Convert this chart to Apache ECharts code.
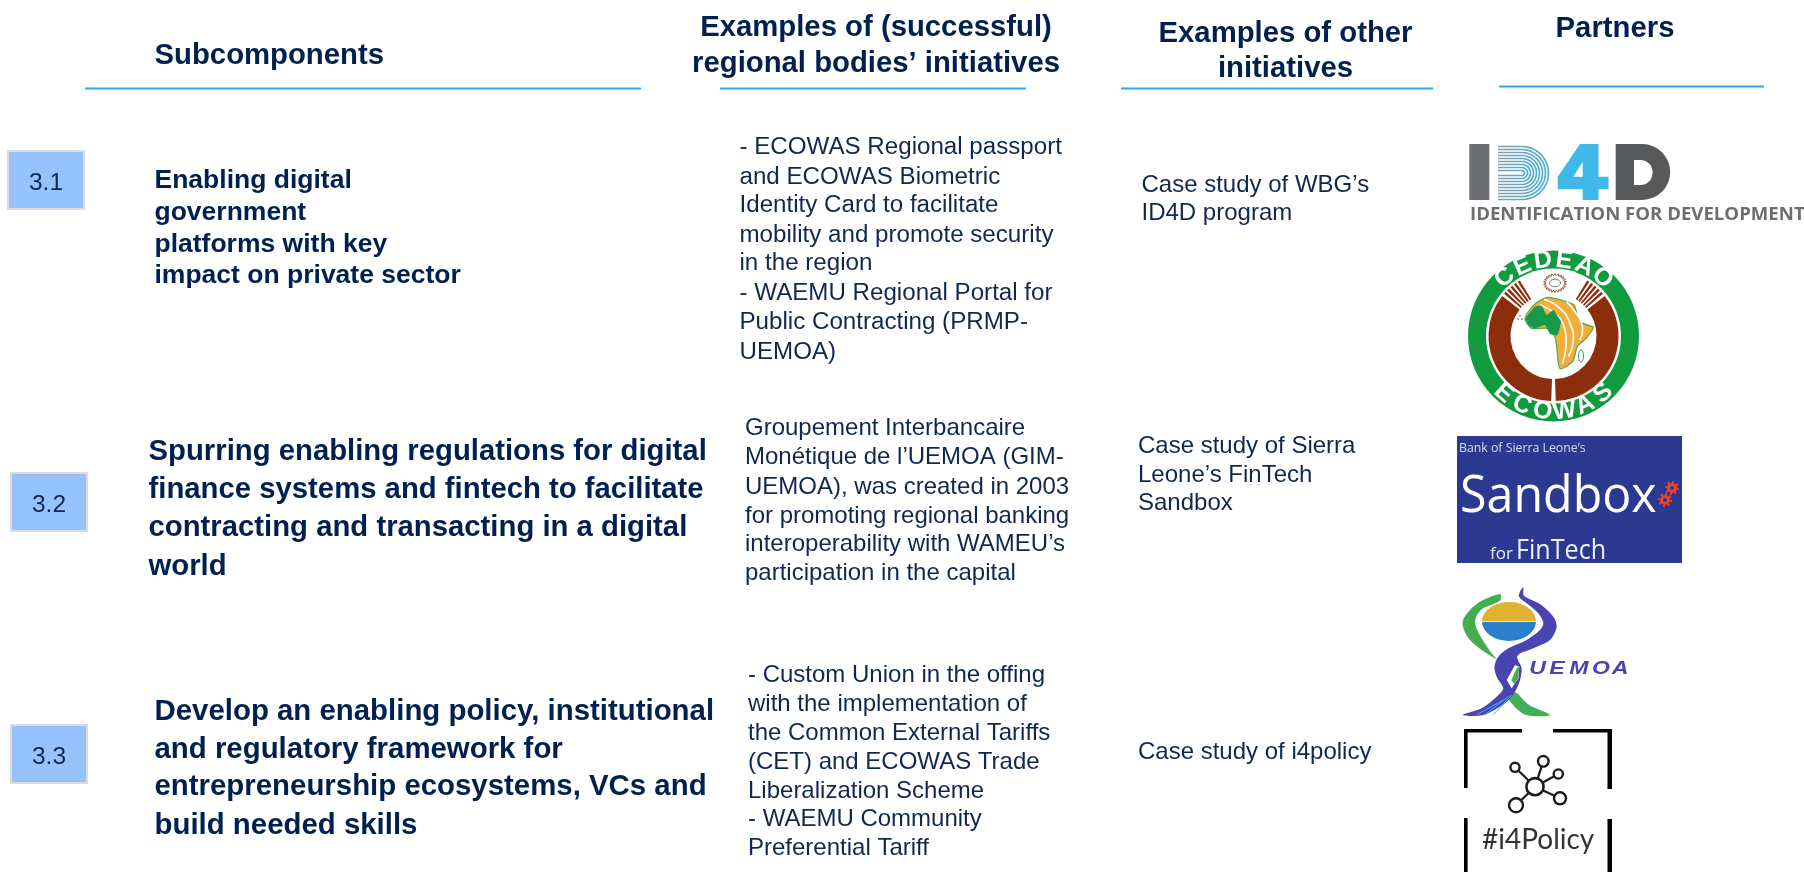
<!DOCTYPE html>
<html><head><meta charset="utf-8">
<script src="https://cdn.jsdelivr.net/npm/echarts@6/dist/echarts.min.js"></script>
<style>html,body{margin:0;padding:0;background:#fff}#c{width:1804px;height:872px}</style>
</head><body><div id="c"></div>
<script>
// ---- content ----
const subHeader = ["Subcomponents"];
const regionalHeader = ["Examples of (successful)", "regional bodies’ initiatives"];
const otherHeader = ["Examples of other", "initiatives"];
const partnersHeader = ["Partners"];
const rowLabels = ["3.1", "3.2", "3.3"];
const sub31 = ["Enabling digital", "government", "platforms with key", "impact on private sector"];
const sub32 = ["Spurring enabling regulations for digital", "finance systems and fintech to facilitate", "contracting and transacting in a digital", "world"];
const sub33 = ["Develop an enabling policy, institutional", "and regulatory framework for", "entrepreneurship ecosystems, VCs and", "build needed skills"];
const regional31 = ["- ECOWAS Regional passport", "and ECOWAS Biometric", "Identity Card to facilitate", "mobility and promote security", "in the region", "- WAEMU Regional Portal for", "Public Contracting (PRMP-", "UEMOA)"];
const regional32 = ["Groupement Interbancaire", "Monétique de l’UEMOA (GIM-", "UEMOA), was created in 2003", "for promoting regional banking", "interoperability with WAMEU’s", "participation in the capital"];
const regional33 = ["- Custom Union in the offing", "with the implementation of", "the Common External Tariffs", "(CET) and ECOWAS Trade", "Liberalization Scheme", "- WAEMU Community", "Preferential Tariff"];
const other31 = ["Case study of WBG’s", "ID4D program"];
const other32 = ["Case study of Sierra", "Leone’s FinTech", "Sandbox"];
const other33 = ["Case study of i4policy"];
const logoId4d = "IDENTIFICATION FOR DEVELOPMENT";
const logoCedeao = "CEDEAO";
const logoEcowas = "ECOWAS";
const logoBank = "Bank of Sierra Leone’s";
const logoSandbox = "Sandbox";
const logoFor = "for";
const logoFinTech = "FinTech";
const logoUemoa = "UEMOA";
const logoI4 = "#i4Policy";

// ---- helpers ----
const AR = "'Liberation Sans', Arial, sans-serif";
const NAVY = "#002150", BODY = "#10284f", RULE = "#2aa9f0";
const els = [];
const add = o => { o.z = els.length + 1; o.silent = true; els.push(o); return o; };
function text(s, x, base, size, o = {}) {
  const fam = o.family || AR;
  const y = o.k === 0 ? base : base - 0.346 * size + (o.family ? 0 : 3.3);
  add({ type: 'text', x, y, rotation: o.rotation || 0, scaleX: o.scaleX || 1,
    style: { text: s, fill: o.color || BODY, fontFamily: fam, fontSize: size, fontWeight: o.weight || 'normal', fontStyle: o.style || 'normal',
      align: o.align || 'left', verticalAlign: 'middle' } });
}
function block(lines, x, bases, size, o) { lines.forEach((l, i) => text(l, x, bases[i], size, o)); }
function rule(x1, x2, y) { add({ type: 'line', shape: { x1, y1: y, x2, y2: y }, style: { stroke: RULE, lineWidth: 2 } }); }
function poly(pts, fill, smooth, extra) { add({ type: 'polygon', shape: { points: pts, smooth: smooth || 0 }, style: Object.assign({ fill }, extra || {}) }); }
function pline(pts, stroke, lw, smooth) { add({ type: 'polyline', shape: { points: pts, smooth: smooth || 0 }, style: { stroke, lineWidth: lw, fill: 'none' } }); }
function rect(x, y, w, h, fill, r) { add({ type: 'rect', shape: { x, y, width: w, height: h, r: r || 0 }, style: { fill } }); }
function circ(cx, cy, r, fill, stroke, lw, dash) { add({ type: 'circle', shape: { cx, cy, r }, style: { fill: fill || 'none', stroke: stroke || 'none', lineWidth: lw || 0, lineDash: dash || null } }); }
const rad = d => d * Math.PI / 180;
function sector(cx, cy, r0, r, a, b, fill) { add({ type: 'sector', shape: { cx, cy, r0, r, startAngle: rad(a), endAngle: rad(b), clockwise: true }, style: { fill } }); }

// ---- headers ----
const H2 = 29.3;
text(subHeader[0], 154.5, 63, H2, { weight: 'bold', color: NAVY });
block(regionalHeader, 876, [35, 71], H2, { weight: 'bold', color: NAVY, align: 'center' });
block(otherHeader, 1285.5, [40.5, 76], H2, { weight: 'bold', color: NAVY, align: 'center' });
text(partnersHeader[0], 1615, 36, H2, { weight: 'bold', color: NAVY, align: 'center' });
rule(85, 641, 88.5); rule(720, 1026, 88.5); rule(1121, 1433, 88.5); rule(1499, 1764, 86.5);

// ---- numbered boxes ----
[[8, 151], [11, 473], [11, 725]].forEach((p, i) => {
  add({ type: 'rect', shape: { x: p[0], y: p[1], width: 76, height: 58 }, style: { fill: '#96c2fe', stroke: '#dcdcdc', lineWidth: 2 } });
  text(rowLabels[i], p[0] + 38, p[1] + 37, 24.5, { align: 'center', color: '#10284f' });
});

// ---- subcomponents ----
block(sub31, 154.5, [187, 218.5, 250.5, 282], 26.5, { weight: 'bold', color: NAVY });
block(sub32, 148.5, [459, 497, 535, 574], 29.3, { weight: 'bold', color: NAVY });
block(sub33, 154.5, [719, 756.5, 794, 833], 29.4, { weight: 'bold', color: NAVY });

// ---- examples ----
block(regional31, 739.5, [152, 182, 210.5, 240, 268, 298, 327, 357], 24.15);
block(regional32, 745, [433, 462, 492, 521, 549, 578], 24);
block(regional33, 748, [680, 709, 738, 767, 796, 824, 853], 24);
block(other31, 1141.5, [190, 218], 24);
block(other32, 1138, [451, 480, 508.5], 24);
block(other33, 1138, [757], 24);

// ---- ID4D logo ----
rect(1469.3, 144, 20, 56, '#6d6e71');
(function () {
  const cx = 1522, cy = 173;
  const grad = { type: 'linear', x: 0, y: 0, x2: 1, y2: 0, colorStops: [{ offset: 0, color: '#8c9aa3' }, { offset: 1, color: '#4fb0d6' }] };
  [2.5, 5.5, 8.5, 11.5, 14.5, 17.5, 20.5, 23.5, 26.5].forEach(r => {
    const pts = [[1498, cy - r]];
    for (let a = -90; a <= 90; a += 10) pts.push([cx + r * Math.cos(rad(a)), cy + r * Math.sin(rad(a))]);
    pts.push([1498, cy + r]);
    add({ type: 'polyline', shape: { points: pts }, style: { stroke: grad, lineWidth: 1.7, fill: 'none' } });
  });
})();
poly([[1580, 144], [1598.5, 144], [1598.5, 176.7], [1608.5, 176.7], [1608.5, 189.3], [1598.5, 189.3], [1598.5, 200], [1582.7, 200], [1582.7, 189.3], [1557.7, 189.3], [1557.7, 176.7]], '#41b8ea');
poly([[1582.7, 176.7], [1582.7, 161.7], [1573.3, 176.7]], '#fff');
rect(1615.7, 144, 54.5, 56, '#58595b', [0, 28, 28, 0]);
rect(1634, 160, 18.5, 25, '#fff', [0, 12, 12, 0]);
text(logoId4d, 1470, 221, 18.6, { weight: 'bold', color: '#6d6e71', family: "'Open Sans', sans-serif" });

// ---- ECOWAS / CEDEAO logo ----
(function () {
  const e = (x, y) => [1460 + x / 3, 240 + y / 3];
  const E = a => a.map(p => e(p[0], p[1]));
  const cx = 1553.5, cy = 336;
  circ(cx, cy, 85.5, '#0f9b3e');
  circ(cx, cy, 67.5, '#fff');
  sector(cx, cy, 43, 65, 92, 218, '#8c2d0c');
  sector(cx, cy, 43, 65, -38, 88, '#8c2d0c');
  for (let i = 0; i < 5; i++) {
    sector(cx, cy, 43, 65, 220.5 + i * 4, 222.8 + i * 4, '#8c2d0c');
    sector(cx, cy, 43, 65, -40.5 - i * 4 - 2.3, -40.5 - i * 4, '#8c2d0c');
  }
  [...logoCedeao].forEach((ch, i) => {
    const a = 230 + i * 16, r = 76;
    text(ch, cx + r * Math.cos(rad(a)), cy + r * Math.sin(rad(a)), 25, { k: 0, align: 'center', weight: 'bold', color: '#fff', rotation: -rad(a + 90) });
  });
  [...logoEcowas].forEach((ch, i) => {
    const a = 131 - i * 16.4, r = 76;
    text(ch, cx + r * Math.cos(rad(a)), cy + r * Math.sin(rad(a)), 25, { k: 0, align: 'center', weight: 'bold', color: '#fff', rotation: -rad(a - 90) });
  });
  // sun
  const sun = [];
  for (let i = 0; i < 44; i++) {
    const rr = i % 2 ? 11.5 : 9, a = i * Math.PI / 22;
    sun.push([1555 + rr * Math.cos(a), 283 + rr * 0.82 * Math.sin(a)]);
  }
  add({ type: 'polygon', shape: { points: sun }, style: { fill: 'none', stroke: '#a0523d', lineWidth: 1 } });
  add({ type: 'ellipse', shape: { cx: 1555, cy: 283, rx: 5.5, ry: 3.8 }, style: { fill: 'none', stroke: '#6d8f7a', lineWidth: 1 } });
  // Africa
  poly(E([[195, 235], [225, 192], [262, 172], [310, 182], [342, 195], [352, 225], [368, 250], [400, 262], [378, 295], [352, 320], [338, 365], [300, 386], [292, 340], [285, 290], [262, 265], [215, 265]]), '#f1ae3b', 0.25, { stroke: '#58a84c', lineWidth: 1.2 });
  pline(E([[252, 178], [300, 205], [330, 250], [340, 300], [325, 350]]), '#fff', 1.6, 0.5);
  pline(E([[240, 195], [290, 225], [315, 270], [318, 320], [308, 370]]), '#fff', 1.6, 0.5);
  pline(E([[320, 185], [355, 230], [368, 265], [360, 300]]), '#fff', 1.6, 0.5);
  poly(E([[197, 235], [225, 200], [245, 198], [260, 225], [280, 210], [295, 232], [303, 245], [292, 285], [270, 282], [255, 255], [225, 265], [205, 255]]), '#17994a', 0.15);
  add({ type: 'ellipse', shape: { cx: 1581, cy: 356, rx: 2.5, ry: 6 }, style: { fill: '#fff', stroke: '#3d8c5a', lineWidth: 1 } });
  circ(1520, 316, 1, '#7fa88f'); circ(1522, 319, 1, '#7fa88f'); circ(1518, 319, 1, '#7fa88f');
})();

// ---- Sandbox logo ----
rect(1457, 436, 225, 127, '#2b3990');
const OS = "'Open Sans', sans-serif";
text(logoBank, 1459, 453, 12.3, { color: '#d8dbee', family: OS });
text(logoSandbox, 1460, 515, 52, { color: '#fff', family: OS, scaleX: 0.93 });
text(logoFor, 1490, 560, 17, { color: '#e9ebf5', family: OS });
text(logoFinTech, 1516, 561, 27, { color: '#eef0f8', family: OS, scaleX: 0.93 });
[[1672, 488], [1665, 500]].forEach(g => {
  circ(g[0], g[1], 3.5, 'none', '#ef4423', 2.8);
  circ(g[0], g[1], 6, 'none', '#ef4423', 2, [2, 2.6]);
});

// ---- UEMOA logo ----
(function () {
  const u = a => a.map(p => [1440 + p[0] / 3, 580 + p[1] / 3]);
  const G = '#44ae4e', P = '#4a44b2';
  poly(u([[180, 42], [110, 72], [68, 125], [90, 180], [170, 238], [240, 262], [215, 330], [232, 340], [262, 372], [330, 405], [258, 405], [215, 370], [190, 320], [205, 270], [165, 232], [125, 175], [105, 125], [125, 88], [180, 62]]), G, 0.3);
  poly(u([[250, 22], [252, 47], [300, 72], [340, 110], [350, 140], [330, 180], [280, 205], [232, 228], [245, 265], [240, 300], [225, 335], [195, 370], [130, 405], [68, 405], [125, 385], [170, 350], [190, 325], [172, 295], [163, 262], [175, 230], [205, 205], [260, 180], [300, 150], [310, 130], [295, 100], [260, 70], [237, 50], [240, 35]]), P, 0.3);
  poly(u([[225, 255], [238, 260], [235, 295], [215, 325], [200, 300]]), '#fff');
  poly(u([[232, 262], [238, 262], [234, 295], [222, 312], [214, 300]]), G);
  pline(u([[205, 350], [135, 404]]), '#3fb4e0', 1); pline(u([[190, 360], [110, 404]]), '#3fb4e0', 1); pline(u([[215, 345], [160, 404]]), '#3fb4e0', 1);
  pline(u([[235, 350], [300, 404]]), '#2bb59a', 1); pline(u([[225, 360], [275, 404]]), '#2bb59a', 1);
  add({ type: 'sector', x: 1509, y: 621.5, scaleY: 0.72, shape: { cx: 0, cy: 0, r0: 0, r: 27, startAngle: Math.PI, endAngle: 2 * Math.PI, clockwise: true }, style: { fill: '#e2b22e' } });
  add({ type: 'sector', x: 1509, y: 621.5, scaleY: 0.72, shape: { cx: 0, cy: 0, r0: 0, r: 27, startAngle: 0, endAngle: Math.PI, clockwise: true }, style: { fill: '#2e80cc' } });
  add({ type: 'line', shape: { x1: 1482, y1: 621.5, x2: 1536, y2: 621.5 }, style: { stroke: '#f0e6b8', lineWidth: 1.2 } });
  [...logoUemoa].forEach((ch, i) => {
    text(ch, [1537.5, 1557, 1579, 1601, 1620][i], 672.5, 18.5, { align: 'center', weight: 'bold', style: 'italic', color: P, scaleX: 1.25 });
  });
})();

// ---- #i4Policy logo ----
(function () {
  const K = '#000';
  rect(1464, 729, 58, 3.4, K); rect(1464, 729, 3.6, 59, K);
  rect(1553, 729, 59, 3.4, K); rect(1607.5, 729, 4.5, 60, K);
  rect(1464, 818, 3.6, 54, K); rect(1607.5, 819, 4.5, 53, K);
  const c = [1535, 786.7];
  const nodes = [[1515, 767.3, 4.6], [1543.3, 761.3, 5.3], [1558.3, 774, 4.6], [1560, 798.3, 6], [1516, 805.3, 7]];
  nodes.forEach(n => pline([c, [n[0], n[1]]], '#1c1c1c', 2.2));
  nodes.forEach(n => circ(n[0], n[1], n[2], '#fff', '#1c1c1c', 2.4));
  circ(c[0], c[1], 8.6, '#fff', '#1c1c1c', 2.6);
  text(logoI4, 1482, 850, 28, { color: '#333', family: "Lato, sans-serif" });
})();

const chart = echarts.init(document.getElementById('c'), null, { renderer: 'canvas' });
chart.setOption({ animation: false, backgroundColor: '#ffffff', graphic: { elements: els } });
</script></body></html>
